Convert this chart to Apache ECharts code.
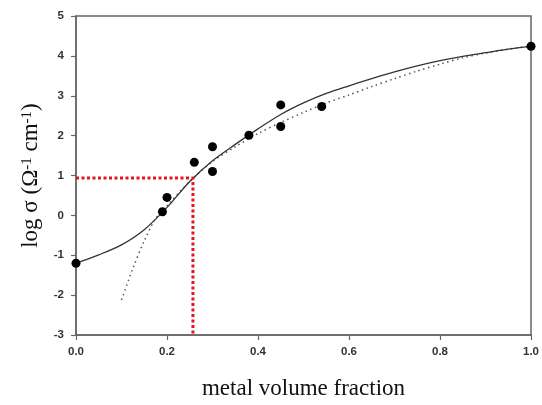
<!DOCTYPE html>
<html>
<head>
<meta charset="utf-8">
<script src="https://cdn.jsdelivr.net/npm/echarts@6/dist/echarts.min.js"></script>
<style>html,body{margin:0;padding:0;background:#fff}#c{width:542px;height:405px}</style>
</head>
<body>
<div id="c"></div>
<script>
// measured points
var pointX = [0, 0.19, 0.20, 0.26, 0.30, 0.30, 0.38, 0.45, 0.45, 0.54, 1.0];
var pointY = [-1.2, 0.09, 0.45, 1.33, 1.72, 1.10, 2.01, 2.77, 2.23, 2.73, 4.24];
// solid fit curve
var solidX = [0, 0.05, 0.1, 0.15, 0.2, 0.25, 0.3, 0.35, 0.4, 0.45, 0.5, 0.55, 0.6, 0.65, 0.7, 0.75, 0.8, 0.85, 0.9, 0.95, 1.0];
var solidY = [-1.2, -0.99, -0.74, -0.36, 0.2, 0.85, 1.37, 1.78, 2.17, 2.53, 2.82, 3.06, 3.25, 3.43, 3.6, 3.75, 3.88, 3.99, 4.08, 4.17, 4.24];
// dotted fit curve
var dotX = [0.10, 0.125, 0.15, 0.175, 0.2, 0.25, 0.3, 0.35, 0.4, 0.45, 0.5, 0.55, 0.6, 0.65, 0.7, 0.75, 0.8, 0.85, 0.9, 0.95, 1.0];
var dotY = [-2.12, -1.33, -0.64, -0.08, 0.24, 0.85, 1.35, 1.72, 2.05, 2.33, 2.58, 2.82, 3.02, 3.23, 3.43, 3.62, 3.79, 3.95, 4.07, 4.17, 4.24];
// red reference lines
var refX = 0.257;
var refY = 0.94;
// axis ticks
var xTicks = [0, 0.2, 0.4, 0.6, 0.8, 1.0];
var yTicks = [-3, -2, -1, 0, 1, 2, 3, 4, 5];

function zip(a, b) { return a.map(function (v, i) { return [v, b[i]]; }); }

var chart = echarts.init(document.getElementById('c'), null, {renderer: 'canvas'});
chart.setOption({
  animation: false,
  backgroundColor: '#fff',
  grid: {left: 76, right: 9, top: 16, bottom: 64, show: true, borderColor: '#666', borderWidth: 1.5, backgroundColor: 'transparent'},
  xAxis: {
    type: 'value', min: xTicks[0], max: xTicks[xTicks.length - 1], interval: 0.2,
    name: 'metal volume fraction', nameLocation: 'middle', nameGap: 42,
    nameTextStyle: {fontFamily: 'Liberation Serif', fontSize: 23, color: '#111'},
    axisLine: {show: true, onZero: false, lineStyle: {color: '#666', width: 1.5}},
    axisTick: {show: true, inside: false, length: 5, lineStyle: {color: '#666', width: 1.2}},
    axisLabel: {margin: 11, fontFamily: 'Liberation Sans', fontSize: 11.5, fontWeight: 'bold', color: '#333',
      formatter: function (v) { return v.toFixed(1); }},
    splitLine: {show: false}
  },
  yAxis: {
    type: 'value', min: yTicks[0], max: yTicks[yTicks.length - 1], interval: 1,
    name: 'log σ (Ω{sup|-1} cm{sup|-1})', nameLocation: 'middle', nameGap: 33, nameRotate: 90,
    nameTextStyle: {fontFamily: 'Liberation Serif', fontSize: 23, color: '#111',
      rich: {sup: {fontFamily: 'Liberation Serif', fontSize: 15, color: '#111', verticalAlign: 'top'}}},
    axisLine: {show: true, onZero: false, lineStyle: {color: '#666', width: 1.5}},
    axisTick: {show: true, inside: false, length: 5, lineStyle: {color: '#666', width: 1.2}},
    axisLabel: {margin: 12, fontFamily: 'Liberation Sans', fontSize: 11.5, fontWeight: 'bold', color: '#333'},
    splitLine: {show: false}
  },
  series: [
    {type: 'line', data: zip(dotX, dotY), smooth: 0.3, showSymbol: false,
      lineStyle: {color: '#555', width: 1.5, type: [1.5, 3.5]}, z: 2},
    {type: 'line', data: zip(solidX, solidY), smooth: 0.3, showSymbol: false,
      lineStyle: {color: '#333', width: 1.3}, z: 3},
    {type: 'line', data: [[xTicks[0], refY], [refX, refY], [refX, yTicks[0]]], showSymbol: false,
      lineStyle: {color: '#e3161b', width: 3, type: [3, 2.5]}, z: 4},
    {type: 'scatter', data: zip(pointX, pointY), symbol: 'circle', symbolSize: 9,
      itemStyle: {color: '#000', opacity: 1}, z: 5}
  ]
});
</script>
</body>
</html>
